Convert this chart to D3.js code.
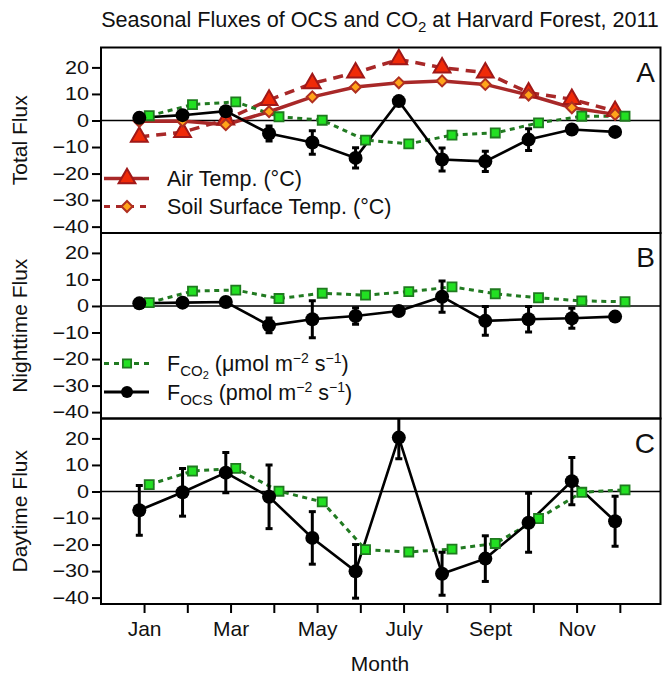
<!DOCTYPE html>
<html>
<head>
<meta charset="utf-8">
<script src="https://cdn.jsdelivr.net/npm/d3@7"></script>
<style>
  html, body { margin: 0; padding: 0; background: #fff; }
  svg { display: block; font-family: "Liberation Sans", Arial, Helvetica, sans-serif; }
</style>
</head>
<body>
<svg id="chart" width="662" height="675"></svg>
<script>
// ---------------- DATA ----------------
const months = [1, 2, 3, 4, 5, 6, 7, 8, 9, 10, 11, 12];
const monthLabels = { 1: "Jan", 3: "Mar", 5: "May", 7: "July", 9: "Sept", 11: "Nov" };
const yTicks = [-40, -30, -20, -10, 0, 10, 20];

// Panel A: total flux + temperatures
const airTemp  = [-6.2, -4.4, 0.3, 7.7, 14.0, 18.0, 23.0, 19.9, 18.0, 10.5, 8.0, 3.5];
const soilTemp = [-0.3, -0.2, -1.6, 3.3, 8.9, 12.6, 14.2, 14.9, 13.6, 9.6, 4.8, 2.3];
const totalCO2 = [1.8, 6.0, 7.0, 1.4, 0.1, -7.4, -8.8, -5.5, -4.7, -0.9, 1.6, 1.6];
const totalOCS = [1.0, 2.0, 3.5, -4.9, -8.3, -14.1, 7.3, -14.7, -15.4, -7.2, -3.4, -4.3];
const totalOCSerr = [0.5, 0.5, 0.5, 2.8, 4.4, 3.8, 1.0, 4.3, 3.8, 4.1, 1.5, 0.5];

// Panel B: nighttime flux
const nightCO2 = [1.25, 5.6, 6.0, 2.8, 4.8, 4.1, 5.4, 7.2, 4.6, 3.1, 1.9, 1.6];
const nightOCS = [1.0, 1.25, 1.5, -7.3, -5.0, -3.8, -1.9, 3.5, -5.6, -5.0, -4.6, -4.0];
const nightOCSerr = [0.5, 1.5, 0.5, 2.8, 7.0, 3.1, 0.5, 5.9, 5.4, 4.8, 3.75, 0.5];

// Panel C: daytime flux
const dayCO2 = [2.6, 7.7, 8.7, 0.1, -3.9, -21.9, -22.8, -21.7, -19.6, -10.2, -0.3, 0.6];
const dayOCS = [-7.1, -0.3, 7.1, -2.0, -17.5, -30.1, 20.3, -31.0, -25.3, -11.8, 3.9, -11.2];
const dayOCSerr = [9.4, 9.0, 7.6, 12.0, 9.9, 10.1, 8.0, 8.1, 8.6, 11.1, 8.9, 9.4];

const panels = [
  { letter: "A", title: "Total Flux",     co2: totalCO2, ocs: totalOCS, err: totalOCSerr, temps: true,  legend: "temp" },
  { letter: "B", title: "Nighttime Flux", co2: nightCO2, ocs: nightOCS, err: nightOCSerr, temps: false, legend: "flux" },
  { letter: "C", title: "Daytime Flux",   co2: dayCO2,   ocs: dayOCS,   err: dayOCSerr,   temps: false, legend: null }
];

// ---------------- LAYOUT ----------------
const svg = d3.select("#chart");
const left = 101, right = 660.5;
const panelTop0 = 47.5, panelH = 185.5;
const font = '"Liberation Sans", Arial, Helvetica, sans-serif';

const x = d3.scaleLinear().domain([0, 12.94]).range([100.8, right]);
const offL = -0.11, offR = 0.12;

const C = {
  tempLine: "#a82828",
  triFill: "#f02a08", triStroke: "#a01818",
  diaFill: "#ffa41a", diaStroke: "#b03020",
  co2Line: "#217a21", sqFill: "#22e022", sqStroke: "#1f7a1f",
  ocs: "#000"
};

// Title
const title = svg.append("text")
  .attr("x", 380).attr("y", 27)
  .attr("text-anchor", "middle")
  .attr("font-size", 21.6).attr("fill", "#111");
title.append("tspan").text("Seasonal Fluxes of OCS and CO");
title.append("tspan").attr("dy", 5).attr("font-size", 15).text("2");
title.append("tspan").attr("dy", -5).text(" at Harvard Forest, 2011");

const sqSym = d3.symbol().type(d3.symbolSquare).size(82);
const triSym = d3.symbol().type(d3.symbolTriangle).size(122);
const diaSym = d3.symbol().type(d3.symbolSquare).size(60);

panels.forEach((p, i) => {
  const top = panelTop0 + i * panelH;
  const y = d3.scaleLinear().domain([-42.4, 27.5]).range([top + panelH, top]);
  const g = svg.append("g");

  const clipId = "clip" + i;
  svg.append("clipPath").attr("id", clipId)
    .append("rect").attr("x", left).attr("y", top).attr("width", right - left).attr("height", panelH);

  // zero line
  g.append("line")
    .attr("x1", left).attr("x2", right)
    .attr("y1", y(0)).attr("y2", y(0))
    .attr("stroke", "#000").attr("stroke-width", 1.5);

  // y axis
  const ya = g.append("g")
    .attr("transform", `translate(${left},0)`)
    .call(d3.axisLeft(y).tickValues(yTicks).tickSize(9).tickPadding(3));
  ya.select(".domain").remove();
  ya.selectAll(".tick line").attr("stroke", "#000").attr("stroke-width", 2);
  ya.selectAll(".tick text")
    .attr("font-family", font).attr("font-size", 18).attr("fill", "#111")
    .attr("x", -10)
    .attr("transform", "scale(1.2,1)");

  // y title
  g.append("text")
    .attr("transform", `translate(27,${top + panelH / 2}) rotate(-90)`)
    .attr("text-anchor", "middle")
    .attr("font-size", 21).attr("fill", "#111")
    .text(p.title);

  const plot = g.append("g").attr("clip-path", `url(#${clipId})`);

  // temperature lines
  if (p.temps) {
    plot.append("path").datum(soilTemp)
      .attr("fill", "none").attr("stroke", C.tempLine).attr("stroke-width", 3.5)
      .attr("d", d3.line().x((d, j) => x(months[j] + offL)).y(d => y(d)));
    plot.append("path").datum(airTemp)
      .attr("fill", "none").attr("stroke", C.tempLine).attr("stroke-width", 3.5)
      .attr("stroke-dasharray", "10,7")
      .attr("d", d3.line().x((d, j) => x(months[j] + offL)).y(d => y(d)));
  }

  // CO2 line
  plot.append("path").datum(p.co2)
    .attr("fill", "none").attr("stroke", C.co2Line).attr("stroke-width", 3)
    .attr("stroke-dasharray", "5,4.5")
    .attr("d", d3.line().x((d, j) => x(months[j] + offR)).y(d => y(d)));

  // OCS line
  plot.append("path").datum(p.ocs)
    .attr("fill", "none").attr("stroke", C.ocs).attr("stroke-width", 2.6)
    .attr("d", d3.line().x((d, j) => x(months[j] + offL)).y(d => y(d)));

  // error bars
  const eb = plot.append("g").attr("stroke", "#000").attr("stroke-width", 3);
  p.ocs.forEach((v, j) => {
    const cx = x(months[j] + offL);
    const e = p.err[j];
    eb.append("line").attr("x1", cx).attr("x2", cx).attr("y1", y(v - e)).attr("y2", y(v + e));
    [v - e, v + e].forEach(t => {
      eb.append("line").attr("x1", cx - 3.5).attr("x2", cx + 3.5).attr("y1", y(t)).attr("y2", y(t));
    });
  });

  // temperature markers
  if (p.temps) {
    plot.selectAll(".tri").data(airTemp).enter().append("path")
      .attr("d", triSym)
      .attr("transform", (d, j) => `translate(${x(months[j] + offL)},${y(d)})`)
      .attr("fill", C.triFill).attr("stroke", C.triStroke).attr("stroke-width", 2);
    plot.selectAll(".dia").data(soilTemp).enter().append("path")
      .attr("d", diaSym)
      .attr("transform", (d, j) => `translate(${x(months[j] + offL)},${y(d)}) rotate(45)`)
      .attr("fill", C.diaFill).attr("stroke", C.diaStroke).attr("stroke-width", 2);
  }

  // CO2 squares
  plot.selectAll(".sq").data(p.co2).enter().append("path")
    .attr("d", sqSym)
    .attr("transform", (d, j) => `translate(${x(months[j] + offR)},${y(d)})`)
    .attr("fill", C.sqFill).attr("stroke", C.sqStroke).attr("stroke-width", 1.8);

  // OCS circles
  plot.selectAll(".ci").data(p.ocs).enter().append("circle")
    .attr("cx", (d, j) => x(months[j] + offL)).attr("cy", d => y(d))
    .attr("r", 7).attr("fill", "#000");

  // border
  g.append("rect")
    .attr("x", left).attr("y", top).attr("width", right - left).attr("height", panelH)
    .attr("fill", "none").attr("stroke", "#000").attr("stroke-width", 2);

  // panel letter
  g.append("text")
    .attr("x", 655).attr("y", top + 34)
    .attr("text-anchor", "end")
    .attr("font-size", 28).attr("fill", "#111")
    .text(p.letter);

  // legends
  if (p.legend === "temp") {
    const rows = [top + 131, top + 159];
    const l1 = g.append("g");
    l1.append("line").attr("x1", 104).attr("x2", 149).attr("y1", rows[0]).attr("y2", rows[0])
      .attr("stroke", C.tempLine).attr("stroke-width", 3.5);
    l1.append("path").attr("d", triSym).attr("transform", `translate(127,${rows[0]})`)
      .attr("fill", C.triFill).attr("stroke", C.triStroke).attr("stroke-width", 2);
    l1.append("text").attr("x", 167).attr("y", rows[0] + 7.5).attr("font-size", 21.5).attr("fill", "#111")
      .text("Air Temp. (°C)");
    const l2 = g.append("g");
    l2.append("line").attr("x1", 104).attr("x2", 149).attr("y1", rows[1]).attr("y2", rows[1])
      .attr("stroke", C.tempLine).attr("stroke-width", 3).attr("stroke-dasharray", "6,6");
    l2.append("path").attr("d", diaSym).attr("transform", `translate(127,${rows[1]}) rotate(45)`)
      .attr("fill", C.diaFill).attr("stroke", C.diaStroke).attr("stroke-width", 2);
    l2.append("text").attr("x", 167).attr("y", rows[1] + 7.5).attr("font-size", 21.5).attr("fill", "#111")
      .text("Soil Surface Temp. (°C)");
  }
  if (p.legend === "flux") {
    const rows = [top + 130.5, top + 159];
    const l1 = g.append("g");
    l1.append("line").attr("x1", 104).attr("x2", 149).attr("y1", rows[0]).attr("y2", rows[0])
      .attr("stroke", C.co2Line).attr("stroke-width", 3).attr("stroke-dasharray", "5,5");
    l1.append("path").attr("d", d3.symbol().type(d3.symbolSquare).size(68))
      .attr("transform", `translate(127,${rows[0]})`)
      .attr("fill", C.sqFill).attr("stroke", C.sqStroke).attr("stroke-width", 1.8);
    const t1 = l1.append("text").attr("x", 167).attr("y", rows[0] + 7.5).attr("font-size", 21.5).attr("fill", "#111");
    t1.append("tspan").text("F");
    t1.append("tspan").attr("dy", 5).attr("font-size", 15).text("CO");
    t1.append("tspan").attr("dy", 3).attr("font-size", 11).text("2");
    t1.append("tspan").attr("dy", -8).text(" (μmol m");
    t1.append("tspan").attr("dy", -8).attr("font-size", 14).text("−2");
    t1.append("tspan").attr("dy", 8).text(" s");
    t1.append("tspan").attr("dy", -8).attr("font-size", 14).text("−1");
    t1.append("tspan").attr("dy", 8).text(")");

    const l2 = g.append("g");
    l2.append("line").attr("x1", 104).attr("x2", 149).attr("y1", rows[1]).attr("y2", rows[1])
      .attr("stroke", "#000").attr("stroke-width", 3);
    l2.append("circle").attr("cx", 127).attr("cy", rows[1]).attr("r", 6).attr("fill", "#000");
    const t2 = l2.append("text").attr("x", 167).attr("y", rows[1] + 7.5).attr("font-size", 21.5).attr("fill", "#111");
    t2.append("tspan").text("F");
    t2.append("tspan").attr("dy", 5).attr("font-size", 15).text("OCS");
    t2.append("tspan").attr("dy", -5).text(" (pmol m");
    t2.append("tspan").attr("dy", -8).attr("font-size", 14).text("−2");
    t2.append("tspan").attr("dy", 8).text(" s");
    t2.append("tspan").attr("dy", -8).attr("font-size", 14).text("−1");
    t2.append("tspan").attr("dy", 8).text(")");
  }

  // x axis on last panel
  if (i === panels.length - 1) {
    const xa = g.append("g")
      .attr("transform", `translate(0,${top + panelH})`)
      .call(d3.axisBottom(x).tickValues(months).tickSize(9).tickPadding(8)
        .tickFormat(d => monthLabels[d] || ""));
    xa.select(".domain").remove();
    xa.selectAll(".tick line").attr("stroke", "#000").attr("stroke-width", 2);
    xa.selectAll(".tick text").attr("font-family", font).attr("font-size", 21).attr("fill", "#111");
    g.append("text")
      .attr("x", 380).attr("y", top + panelH + 67)
      .attr("text-anchor", "middle").attr("font-size", 21).attr("fill", "#111")
      .text("Month");
  }
});
</script>
</body>
</html>
